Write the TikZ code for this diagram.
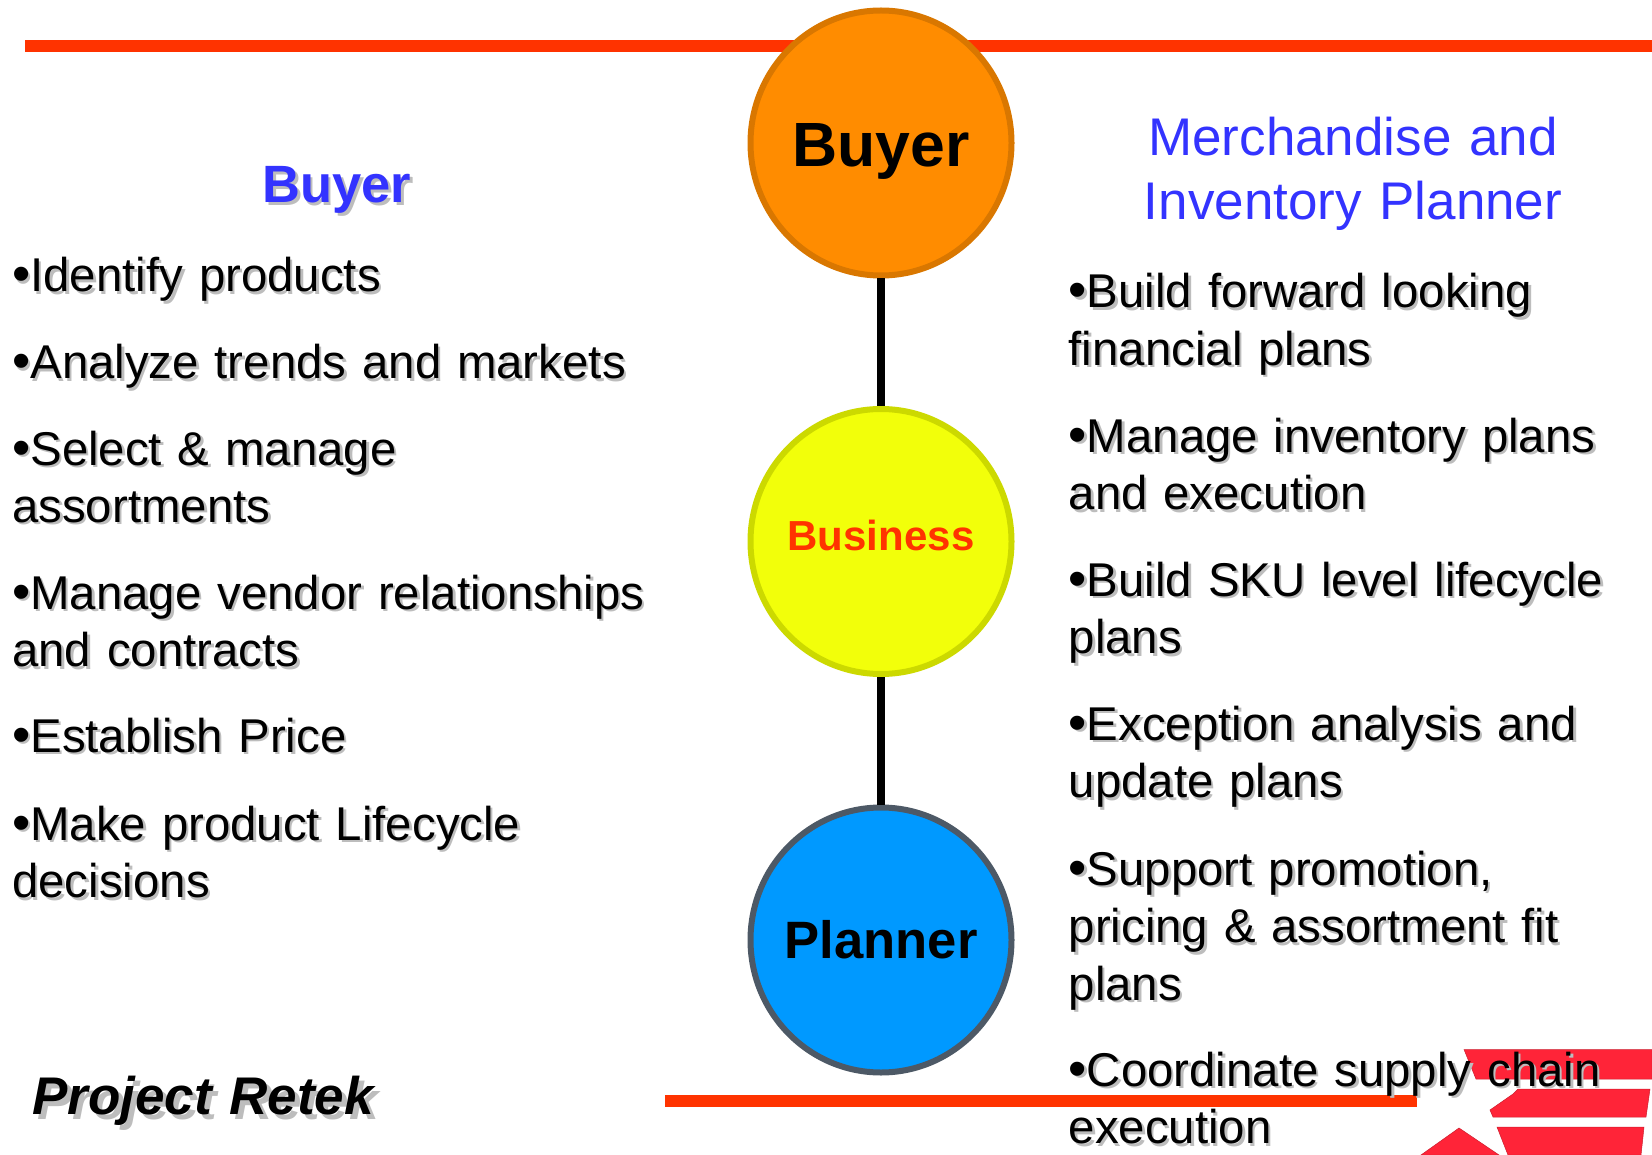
\documentclass[tikz,border=0pt]{standalone}
\usepackage{fontspec}
\usetikzlibrary{shapes.geometric}
\setmainfont{Liberation Sans}
\definecolor{barred}{HTML}{FF3300}
\definecolor{headblue}{HTML}{3333FF}
\definecolor{logored}{HTML}{FF2438}
\definecolor{dropgray}{HTML}{BDBDBD}
\definecolor{buyerfill}{HTML}{FF8C00}
\definecolor{buyerline}{HTML}{D97700}
\definecolor{busfill}{HTML}{F2FF0A}
\definecolor{busline}{HTML}{CCD900}
\definecolor{planfill}{HTML}{0099FF}
\definecolor{planline}{HTML}{4D5966}
\newcommand{\fsz}[1]{\fontsize{#1}{#1}\selectfont}
\newcommand{\bul}{{\fontsize{52}{57.5}\selectfont•}}
\begin{document}
\begin{tikzpicture}[
        x=1pt, y=-1pt,
        bar/.style={barred, line width=12pt},
        lnk/.style={black, line width=8pt},
        hub/.style={ellipse, minimum width=261pt, minimum height=265pt, line width=6pt, inner sep=0pt, inner xsep=-30pt, text depth=0pt},
        item/.style={anchor=base west, inner sep=0pt, text width=680pt, align=left, font=\fontsize{47.4}{57.5}\selectfont},
        head/.style={anchor=base, inner sep=0pt, text width=700pt, align=center, text=headblue},
        logo/.style={fill=logored, draw=logored!80!black, line width=0.5pt}
      ]
      \useasboundingbox (0,0) rectangle (1652,1155);
      \coordinate (t1) at (25,46);
      \coordinate (t2) at (1652,46);
      \coordinate (b1) at (665,1101);
      \coordinate (b2) at (1417,1101);
      \draw[bar] (t1) -- (t2);
      \draw[logo] (1464,1049.5) -- (1652,1049.5) -- (1652,1079) -- (1476,1079) -- cycle;
      \draw[logo] (1518,1089) -- (1650,1089) -- (1646,1117) -- (1493,1117) -- (1490,1110) -- (1513,1094) -- cycle;
      \draw[logo] (1497,1127) -- (1644,1127) -- (1641,1155) -- (1508,1155) -- cycle;
      \draw[logo] (1459,1128) -- (1499,1155) -- (1421,1155) -- cycle;
      \draw[bar] (b1) -- (b2);
      \node[hub, fill=buyerfill, draw=buyerline, text height=47pt, font=\bfseries\fsz{62.5}] (buyer) at (881,143) {Buyer};
      \node[hub, fill=busfill, draw=busline, text=barred, text depth=12pt, font=\bfseries\fsz{42}] (business) at (881,541.5) {Business};
      \node[hub, fill=planfill, draw=planline, text depth=2pt, font=\bfseries\fsz{52.6}] (planner) at (881,940) {Planner};
      \draw[lnk] (buyer) -- (business);
      \draw[lnk] (business) -- (planner);
      \node[head, text=dropgray, font=\bfseries\fsz{52.5}] (bhs) at (339.5,205.5) {Buyer};
      \node[head, font=\bfseries\fsz{52.5}] (bh) at (337,203) {Buyer};
      \node[head, font=\fsz{53}] (mh) at (1353,156) {Merchandise and\\[11pt]Inventory Planner};
      \foreach \y/\t [count=\i] in {292/{\bul Identify products},
          379/{\bul Analyze trends and markets},
          465/{\bul Select \& manage\\assortments},
          609/{\bul Manage vendor relationships\\and contracts},
          752/{\bul Establish Price},
          840/{\bul Make product Lifecycle\\decisions}} {
        \node[item, text=dropgray] (ls\i) at (14.5,\y+2.5) {\t};
        \node[item] (l\i) at (12,\y) {\t};
      }
      \foreach \y/\t [count=\i] in {308/{\bul Build forward looking\\financial plans},
          452/{\bul Manage inventory plans\\and execution},
          596/{\bul Build SKU level lifecycle\\plans},
          740/{\bul Exception analysis and\\update plans},
          885/{\bul Support promotion,\\pricing \& assortment fit\\plans},
          1086/{\bul Coordinate supply chain\\execution}} {
        \node[item, text=dropgray] (rs\i) at (1071,\y+2.5) {\t};
        \node[item] (r\i) at (1068.5,\y) {\t};
      }
      \node[item, text=dropgray, font=\bfseries\itshape\fsz{53}] (prs) at (37,1119) {Project Retek};
      \node[item, font=\bfseries\itshape\fsz{53}] (pr) at (32,1114) {Project Retek};
    \end{tikzpicture}
\end{document}
